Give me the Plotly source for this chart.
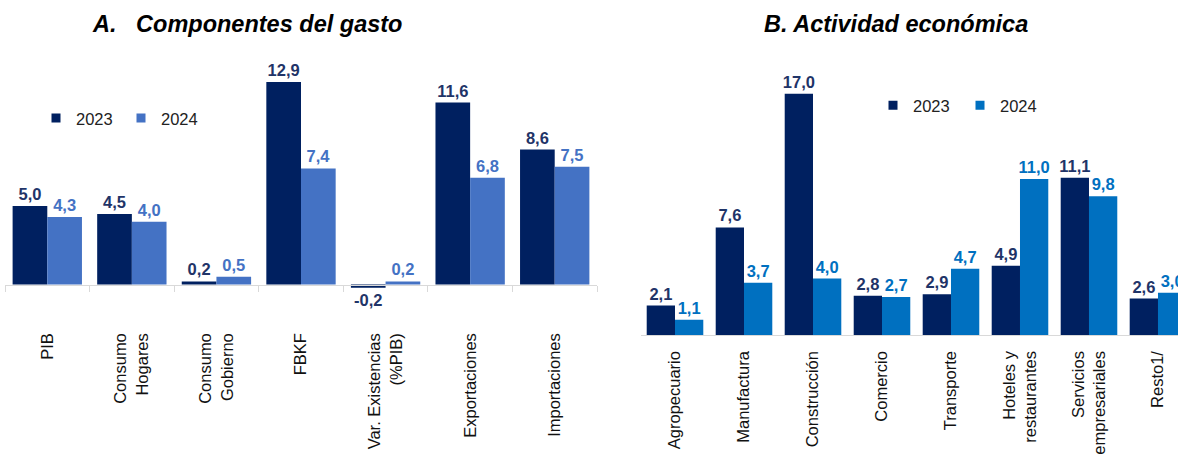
import plotly.graph_objects as go

# Panel A - componentes del gasto
cats_a = ["PIB", "Consumo<br>Hogares", "Consumo<br>Gobierno", "FBKF",
          "Var. Existencias<br>(%PIB)", "Exportaciones", "Importaciones"]
a_2023 = [5.0, 4.5, 0.2, 12.9, -0.2, 11.6, 8.6]
a_2024 = [4.3, 4.0, 0.5, 7.4, 0.2, 6.8, 7.5]

# Panel B - actividad economica
cats_b = ["Agropecuario", "Manufactura", "Construcción", "Comercio", "Transporte",
          "Hoteles y<br>restaurantes", "Servicios<br>empresariales", "Resto1/"]
b_2023 = [2.1, 7.6, 17.0, 2.8, 2.9, 4.9, 11.1, 2.6]
b_2024 = [1.1, 3.7, 4.0, 2.7, 4.7, 11.0, 9.8, 3.0]

NAVY = "#002060"
NAVY_TXT = "#1f3468"
BLUE_A = "#4472c4"
BLUE_B = "#0070c0"
FONT = "Liberation Sans, Arial, sans-serif"
W, H = 1178, 455


def bar(x, y, color, txtcolor, xa, ya):
    return go.Bar(
        x=x, y=y, marker=dict(color=color, line=dict(width=0)),
        texttemplate="%{y:.1f}", textposition="outside", cliponaxis=False,
        constraintext="none",
        textfont=dict(family=FONT, size=16.5, color=txtcolor, weight="bold"),
        xaxis=xa, yaxis=ya, showlegend=False, hoverinfo="skip",
    )


def legend_dummy(name, color, xa, ya, lg):
    return go.Scatter(
        x=[None], y=[None], mode="markers", name=name,
        marker=dict(symbol="square", size=9, color=color),
        xaxis=xa, yaxis=ya, legend=lg,
    )


fig = go.Figure()
fig.add_trace(bar(cats_a, a_2023, NAVY, NAVY_TXT, "x", "y"))
fig.add_trace(bar(cats_a, a_2024, BLUE_A, BLUE_A, "x", "y"))
fig.add_trace(bar(cats_b, b_2023, NAVY, NAVY_TXT, "x2", "y2"))
fig.add_trace(bar(cats_b, b_2024, BLUE_B, BLUE_B, "x2", "y2"))
fig.add_trace(legend_dummy("2023", NAVY, "x", "y", "legend"))
fig.add_trace(legend_dummy("2024", BLUE_A, "x", "y", "legend"))
fig.add_trace(legend_dummy("2023", NAVY, "x2", "y2", "legend2"))
fig.add_trace(legend_dummy("2024", BLUE_B, "x2", "y2", "legend2"))

tickfont = dict(family=FONT, size=16.5, color="#111111")
legfont = dict(family=FONT, size=16.5, color="#222222")
titlefont = dict(family=FONT, size=23.5, color="black", weight="bold", style="italic")

fig.update_layout(
    width=W, height=H,
    margin=dict(l=0, r=0, t=0, b=0),
    paper_bgcolor="white", plot_bgcolor="white",
    barmode="group", bargap=0.18, bargroupgap=0,
    separators=",.",
    font=dict(family=FONT),
    xaxis=dict(
        domain=[5 / W, 597 / W], anchor="free", position=1 - 291 / H,
        type="category", range=[-0.5, 6.5],
        showline=True, linecolor="#d9d9d9", linewidth=1,
        ticks="outside", tickson="boundaries", ticklen=6, tickcolor="#d9d9d9",
        tickangle=-90, ticklabelstandoff=41, tickfont=tickfont,
        showgrid=False,
    ),
    yaxis=dict(
        domain=[1 - 320 / H, 1 - 40 / H], range=[-1.81, 15.64],
        anchor="x", visible=False, showgrid=False, zeroline=False,
    ),
    xaxis2=dict(
        domain=[640.5 / W, 1], anchor="free", position=1 - 343 / H,
        type="category", range=[-0.5, 7.29],
        showline=True, linecolor="#d9d9d9", linewidth=1,
        ticks="", tickangle=-90, ticklabelstandoff=8, tickfont=tickfont,
        showgrid=False,
    ),
    yaxis2=dict(
        domain=[1 - 360 / H, 1 - 40 / H], range=[-1.17, 20.85],
        anchor="x2", visible=False, showgrid=False, zeroline=False,
    ),
    legend=dict(
        orientation="h", x=36 / W, y=1 - 121 / H, xanchor="left", yanchor="middle",
        font=legfont, bgcolor="rgba(0,0,0,0)", entrywidth=40, itemclick=False,
    ),
    legend2=dict(
        orientation="h", x=873 / W, y=1 - 108 / H, xanchor="left", yanchor="middle",
        font=legfont, bgcolor="rgba(0,0,0,0)", entrywidth=42, itemclick=False,
    ),
    annotations=[
        dict(text="A.\u00a0\u00a0\u00a0Componentes del gasto", x=247 / W, y=1 - 25 / H,
             xref="paper", yref="paper", showarrow=False, xanchor="center", yanchor="middle",
             font=titlefont),
        dict(text="B. Actividad económica", x=896 / W, y=1 - 25 / H,
             xref="paper", yref="paper", showarrow=False, xanchor="center", yanchor="middle",
             font=titlefont),
    ],
)

# drop the default 8px body margin so the figure fills the window
fig.write_html(
    "out.html",
    config={"displayModeBar": False},
    post_script="document.body.style.margin='0';",
)
